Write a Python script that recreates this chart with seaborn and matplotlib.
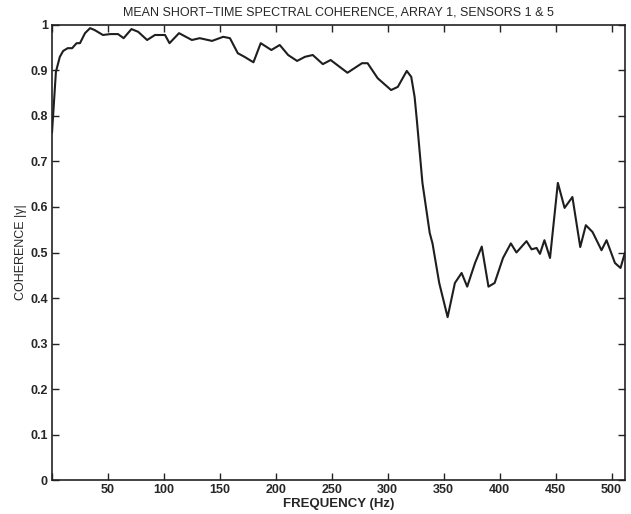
import matplotlib
matplotlib.use("Agg")
import matplotlib.pyplot as plt
import seaborn as sns
import pandas as pd

freq = [0, 3.5, 7, 10, 14, 18, 22, 25, 29.5, 34, 38, 45.5, 52, 59, 64, 71, 77, 85, 92,
        101, 105, 113.5, 125, 132, 143, 153, 159, 166, 172, 180, 186.5, 196, 203.5,
        211, 219, 226, 233, 242, 249, 257, 264, 277, 282, 291, 303, 309, 317, 321, 324,
        326, 331, 337.5, 340, 346, 353.5, 360, 366, 371, 378, 384, 390, 395.5, 403, 410,
        415, 424, 428.5, 433, 436, 440, 445, 452, 458, 465, 472, 477, 483, 491, 495.5,
        503, 508, 512]
coherence = [0.763, 0.897, 0.93, 0.943, 0.949, 0.949, 0.96, 0.96, 0.982, 0.993, 0.989,
             0.978, 0.98, 0.98, 0.971, 0.991, 0.985, 0.967, 0.978, 0.978, 0.96, 0.982,
             0.967, 0.971, 0.965, 0.974, 0.971, 0.938, 0.93, 0.918, 0.96, 0.945, 0.956,
             0.934, 0.921, 0.93, 0.934, 0.914, 0.923, 0.908, 0.895, 0.916, 0.916, 0.883,
             0.857, 0.864, 0.899, 0.886, 0.842, 0.791, 0.653, 0.543, 0.52, 0.433, 0.358,
             0.433, 0.455, 0.425, 0.477, 0.513, 0.425, 0.433, 0.488, 0.52, 0.5, 0.525,
             0.507, 0.51, 0.497, 0.527, 0.488, 0.653, 0.598, 0.622, 0.512, 0.56, 0.545,
             0.505, 0.527, 0.477, 0.466, 0.5]

x_ticks = [0, 50, 100, 150, 200, 250, 300, 350, 400, 450, 500]
x_tick_labels = ["", "50", "100", "150", "200", "250", "300", "350", "400", "450", "500"]
y_ticks = [0, 0.1, 0.2, 0.3, 0.4, 0.5, 0.6, 0.7, 0.8, 0.9, 1.0]
y_tick_labels = ["0", "0.1", "0.2", "0.3", "0.4", "0.5", "0.6", "0.7", "0.8", "0.9", "1"]

sns.set_theme(style="white")
plt.rcParams["font.family"] = ["Liberation Sans", "DejaVu Sans"]

df = pd.DataFrame({"freq": freq, "coh": coherence})

fig = plt.figure(figsize=(6.31, 5.14), dpi=100)
ax = fig.add_axes([0.0824, 0.0661, 0.9081, 0.8853])
sns.lineplot(data=df, x="freq", y="coh", ax=ax, color="#1e1e1e", linewidth=1.5)

ax.set_xlim(0, 512)
ax.set_ylim(0, 1)
ax.set_xticks(x_ticks)
ax.set_xticklabels(x_tick_labels, fontsize=9, fontweight="bold")
ax.set_yticks(y_ticks)
ax.set_yticklabels(y_tick_labels, fontsize=9, fontweight="bold")
ax.tick_params(direction="in", length=5, width=1, color="#222222",
               top=True, right=True, bottom=True, left=True, pad=3)
for s in ax.spines.values():
    s.set_color("#222222")
    s.set_linewidth(1.2)
ax.set_xlabel("FREQUENCY (Hz)", fontsize=9.5, fontweight="bold", labelpad=1)
ax.set_ylabel("COHERENCE |γ|", fontsize=9, labelpad=2)
ax.set_title("MEAN SHORT–TIME SPECTRAL COHERENCE, ARRAY 1, SENSORS 1 & 5",
             fontsize=9, pad=7)

fig.savefig("out.png", dpi=100, facecolor="white")
